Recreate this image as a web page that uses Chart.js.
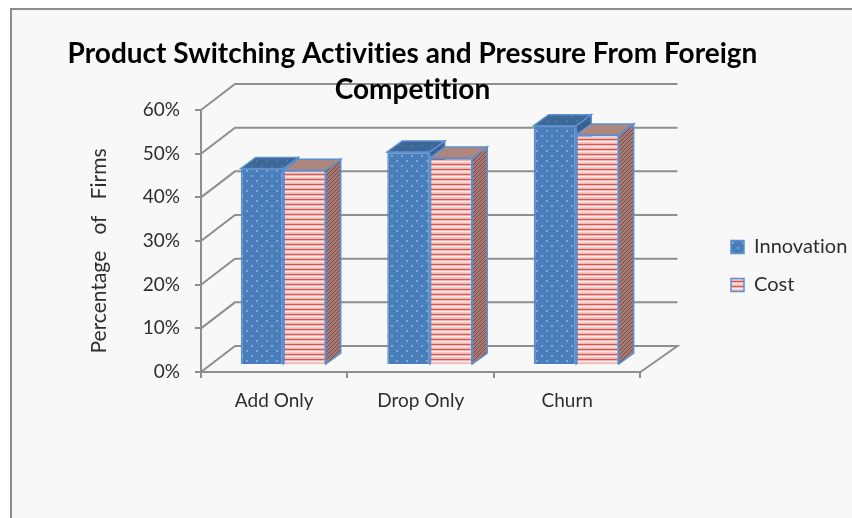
<!DOCTYPE html>
<html>
<head>
<meta charset="utf-8">
<style>
  html, body { margin: 0; padding: 0; background: #fff; overflow: hidden; }
  #frame { position: absolute; left: 10px; top: 8px; right: 0; bottom: 0; background: #f8f8f8; border-left: 2px solid #8c8c8c; border-top: 2px solid #8c8c8c; }
  #chart { position: absolute; left: 0; top: 0; }
</style>
<script src="https://cdn.jsdelivr.net/npm/chart.js@4"></script>
</head>
<body>
<div id="frame"></div>
<canvas id="chart" width="852" height="518"></canvas>
<script>
const categories = ['Add Only', 'Drop Only', 'Churn'];
const innovation = [45, 48.8, 54.8];
const cost = [44.6, 47.4, 52.7];
const yTicks = [0, 10, 20, 30, 40, 50, 60];
const titleLines = ['Product Switching Activities and Pressure From Foreign', 'Competition'];
const yTitle = 'Percentage   of   Firms';

const FONT = 'Lato, sans-serif';
const GRID = '#8e8e8e';
const TEXT = '#2e2e2e';
const EDGE = '#5b8fd0';

// how far the walls and the bars sit behind the axis plane
const wall = { left: 34, right: 37, up: 26 };
const barShift = { x: 9, y: -7 };
const barDepth = { x: 15, y: -11 };

function makePattern(w, h, paint) {
    const c = document.createElement('canvas');
    c.width = w;
    c.height = h;
    paint(c.getContext('2d'));
    return document.getElementById('chart').getContext('2d').createPattern(c, 'repeat');
}

function dots(base, dot) {
    return makePattern(10, 10, g => {
        g.fillStyle = base;
        g.fillRect(0, 0, 10, 10);
        g.fillStyle = dot;
        g.fillRect(2, 2, 2, 2);
        g.fillRect(7, 7, 2, 2);
    });
}

function stripes() {
    return makePattern(1, 5, g => {
        ['#f0b5b1', '#d25a56', '#f0b5b1', '#fbe9e7', '#f4cbc8'].forEach((col, i) => {
            g.fillStyle = col;
            g.fillRect(0, i, 1, 1);
        });
    });
}

function hatch(base, line) {
    return makePattern(4, 4, g => {
        g.fillStyle = base;
        g.fillRect(0, 0, 4, 4);
        g.fillStyle = line;
        for (let i = 0; i < 4; i++) g.fillRect(i, 3 - i, 1, 1);
    });
}

const innovationFront = dots('#4a7ebb', '#7da5d6');
const innovationTop = dots('#3c6797', '#4a77a8');
const innovationSide = dots('#37608f', '#44709f');
const costFront = stripes();
const costTop = hatch('#b08a80', '#a87c74');
const costSide = hatch('#a87a74', '#74484a');

function face(ctx, pts, fill) {
    ctx.beginPath();
    pts.forEach((p, i) => i ? ctx.lineTo(p[0], p[1]) : ctx.moveTo(p[0], p[1]));
    ctx.closePath();
    ctx.fillStyle = fill;
    ctx.fill();
    ctx.strokeStyle = EDGE;
    ctx.lineWidth = 1.5;
    ctx.stroke();
}

// back wall, side wall and floor behind the bars
const wallsPlugin = {
    id: 'walls',
    beforeDraw(chart) {
        const { ctx, scales: { x, y } } = chart;
        const left = x.left, right = x.right;
        ctx.letterSpacing = '0.01px';
        ctx.save();
        ctx.strokeStyle = GRID;
        ctx.lineWidth = 2;
        yTicks.forEach(t => {
            const py = y.getPixelForValue(t);
            ctx.beginPath();
            ctx.moveTo(left, py);
            ctx.lineTo(left + wall.left, py - wall.up);
            ctx.lineTo(right + wall.right, py - wall.up);
            if (t === 0) ctx.lineTo(right, py);
            ctx.stroke();
        });
        ctx.restore();
    }
};

// side and top faces, then the library draws the front faces moved back onto the floor
const depthPlugin = {
    id: 'depth',
    beforeDatasetsDraw(chart) {
        const { ctx } = chart;
        const tops = [innovationTop, costTop];
        const sides = [innovationSide, costSide];
        ctx.save();
        ctx.translate(barShift.x, barShift.y);
        categories.forEach((c, j) => {
            [0, 1].forEach(i => {
                const bar = chart.getDatasetMeta(i).data[j];
                const l = bar.x - bar.width / 2, r = bar.x + bar.width / 2;
                face(ctx, [[r, bar.y], [r + barDepth.x, bar.y + barDepth.y], [r + barDepth.x, bar.base + barDepth.y], [r, bar.base]], sides[i]);
                face(ctx, [[l, bar.y], [l + barDepth.x, bar.y + barDepth.y], [r + barDepth.x, bar.y + barDepth.y], [r, bar.y]], tops[i]);
            });
        });
    },
    afterDatasetsDraw(chart) {
        chart.ctx.restore();
    }
};

// axis caption, legend and title placement
const placementPlugin = {
    id: 'placement',
    afterLayout(chart) {
        const legend = chart.legend;
        legend.left = 713;
        legend.right = legend.left + legend.width;
        legend.top = 219;
        legend.bottom = legend.top + legend.height;
        chart.titleBlock.right = 825;
    },
    afterDraw(chart) {
        const { ctx } = chart;
        ctx.save();
        ctx.translate(99, 251);
        ctx.rotate(-Math.PI / 2);
        ctx.font = '21px ' + FONT;
        ctx.fillStyle = TEXT;
        ctx.textAlign = 'center';
        ctx.textBaseline = 'middle';
        ctx.fillText(yTitle, 0, 0);
        ctx.restore();
    }
};

new Chart(document.getElementById('chart'), {
    type: 'bar',
    data: {
        labels: categories,
        datasets: [
            { label: 'Innovation', data: innovation, backgroundColor: innovationFront, borderColor: EDGE, borderWidth: 1.5 },
            { label: 'Cost', data: cost, backgroundColor: costFront, borderColor: EDGE, borderWidth: 1.5 }
        ]
    },
    plugins: [wallsPlugin, depthPlugin, placementPlugin],
    options: {
        responsive: false,
        animation: false,
        clip: false,
        layout: { padding: { top: 36, right: 67, left: 0, bottom: 0 } },
        datasets: { bar: { barPercentage: 1, categoryPercentage: 0.58 } },
        scales: {
            x: {
                afterFit(scale) { scale.height = 146; },
                border: { color: GRID, width: 2 },
                grid: { drawOnChartArea: false, drawTicks: true, tickLength: 6, color: GRID, lineWidth: 2 },
                ticks: { color: TEXT, font: { family: FONT, size: 19 }, padding: 11, maxRotation: 0 }
            },
            y: {
                min: 0,
                max: 60,
                afterFit(scale) { scale.width = 201; },
                afterBuildTicks(scale) { scale.ticks = yTicks.map(value => ({ value })); },
                border: { color: GRID, width: 2 },
                grid: { drawOnChartArea: false, drawTicks: true, tickLength: 6, color: GRID, lineWidth: 2 },
                ticks: { color: TEXT, font: { family: FONT, size: 19 }, padding: 15, callback: v => v + '%' }
            }
        },
        plugins: {
            title: {
                display: true,
                text: titleLines,
                color: '#000',
                font: { family: FONT, size: 28, weight: 'bold', lineHeight: 1.286 },
                padding: { top: 0, bottom: 2 }
            },
            legend: {
                position: 'right',
                align: 'start',
                fullSize: false,
                labels: { color: TEXT, font: { family: FONT, size: 20 }, boxWidth: 13, boxHeight: 13, padding: 18 }
            },
            tooltip: { enabled: false }
        }
    }
});
</script>
</body>
</html>
